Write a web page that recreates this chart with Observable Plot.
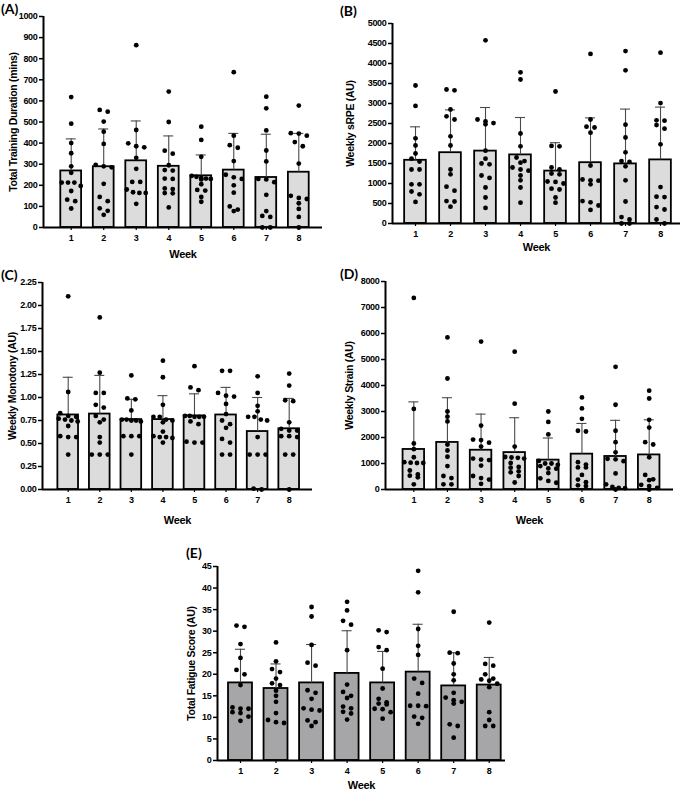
<!DOCTYPE html>
<html><head><meta charset="utf-8">
<script src="https://cdn.jsdelivr.net/npm/d3@7"></script>
<script src="https://cdn.jsdelivr.net/npm/@observablehq/plot@0.6"></script>
<style>
body{margin:0;background:#fff;}
#wrap{position:relative;width:685px;height:790px;overflow:hidden;background:#fff;}
#wrap svg{position:absolute;}
.lab{position:absolute;font-weight:bold;font-size:14px;line-height:14px;font-family:Lato,"Liberation Sans",sans-serif;color:#000;}
</style></head><body><div id="wrap"></div>
<script>
const weeks = [1,2,3,4,5,6,7,8];

// (A) Total Training Duration (mins)
const aMean = [268,288,316,290,245,272,237,262];
const aCap  = [420,467,505,434,344,446,442,446];
const aPts = [
  [618,492,400,352,290,259,213,197,213,213,173,132,125,90],
  [557,549,502,454,396,297,290,285,207,145,125,91,79,60],
  [864,462,399,385,380,330,278,216,216,180,167,164,164,112],
  [644,500,364,350,295,272,270,232,230,185,182,163,162,95],
  [478,415,335,245,240,235,232,230,228,205,178,175,145,122],
  [736,435,390,378,315,250,238,230,200,165,100,85,78],
  [620,565,460,365,313,230,228,215,155,78,55,50,0,0],
  [578,447,445,435,405,385,303,150,140,135,115,88,50,0]
];
const aTicks = [0,100,200,300,400,500,600,700,800,900,1000];

// (B) Weekly sRPE (AU)
const bMean = [1580,1770,1810,1715,1310,1520,1490,1590];
const bCap  = [2417,2840,2900,2650,2020,2640,2860,2910];
const bPts = [
  [3450,2940,2130,1950,1750,1620,1550,1350,1350,980,980,800,730,540],
  [3350,3330,2850,2680,2600,2180,1950,1350,1230,920,820,560,550,420],
  [4580,2600,2550,2510,2480,1820,1620,1500,1480,1200,1140,900,650,390],
  [3780,3600,2250,1930,1650,1560,1520,1400,1350,1320,1200,1080,900,520],
  [3300,1940,1930,1400,1350,1250,1230,1050,1040,1000,870,850,650,520],
  [4240,2600,2420,2400,2270,1450,1100,1080,1070,980,560,530,450,340],
  [4310,3830,2470,2150,1780,1560,1540,1430,1080,550,160,100,0,0],
  [4270,3010,2580,2570,2460,2370,1980,910,670,660,410,350,100,0]
];
const bTicks = [0,500,1000,1500,2000,2500,3000,3500,4000,4500,5000];

// (C) Weekly Monotony (AU)
const cMean = [0.81,0.82,0.76,0.76,0.80,0.81,0.63,0.66];
const cCap  = [1.22,1.24,0.98,1.02,1.04,1.11,1.00,0.99];
const cPts = [
  [2.10,1.06,0.83,0.80,0.79,0.77,0.76,0.75,0.74,0.69,0.58,0.57,0.57,0.38],
  [1.87,1.27,1.05,1.05,0.92,0.89,0.80,0.76,0.73,0.57,0.51,0.38,0.38,0.38],
  [1.24,0.99,0.98,0.86,0.76,0.76,0.75,0.75,0.74,0.58,0.58,0.58,0.38],
  [1.40,1.22,0.92,0.79,0.79,0.76,0.75,0.73,0.63,0.58,0.57,0.57,0.56,0.51],
  [1.34,1.11,1.08,0.80,0.80,0.79,0.79,0.79,0.74,0.71,0.52,0.51,0.51],
  [1.29,1.29,1.05,1.02,1.01,0.93,0.82,0.75,0.71,0.67,0.55,0.51,0.38,0.38],
  [1.23,1.05,0.91,0.85,0.79,0.79,0.76,0.75,0.57,0.38,0.38,0.38,0.01,0.0],
  [1.26,1.13,0.97,0.96,0.73,0.66,0.64,0.64,0.58,0.58,0.57,0.38,0.38,0.0]
];
const cTicks = [0,0.25,0.5,0.75,1,1.25,1.5,1.75,2,2.25];

// (D) Weekly Strain (AU)
const dMean = [1540,1810,1510,1420,1130,1360,1270,1330];
const dCap  = [3370,3530,2900,2760,1980,2540,2660,2680];
const dPts = [
  [7370,3100,1770,1550,1240,1050,1030,1020,1020,730,580,530,470,200],
  [5850,4270,3000,2800,2620,1730,1500,1260,900,520,440,200,200],
  [5690,2460,1920,1900,1800,1650,1190,1150,1130,920,520,440,380,220],
  [5300,3300,1650,1250,1230,1220,1190,1020,870,840,700,660,520,270],
  [3000,2600,2120,1100,1000,1000,950,900,810,800,630,430,330,260],
  [3540,3120,2720,2260,2230,1050,960,850,850,560,380,280,160,130],
  [4720,3260,2260,1820,1430,1180,1160,1090,620,200,100,60,50,0],
  [3800,3500,2680,2380,1820,1730,1240,560,390,360,180,130,60,0]
];
const dTicks = [0,1000,2000,3000,4000,5000,6000,7000,8000];

// (E) Total Fatigue Score (AU)
const eMean = [18.0,16.7,18.0,20.2,18.0,20.5,17.3,17.5];
const eCap  = [25.8,22.4,26.9,30.1,25.3,31.6,25.0,23.9];
const ePts = [
  [31.3,31.0,27.0,23.8,21.0,20.0,17.5,12.3,12.0,12.0,11.2,11.0,10.2,9.2],
  [27.4,23.0,21.2,20.5,19.0,17.9,17.5,16.2,15.0,13.6,11.0,9.4,8.9,8.7],
  [35.6,33.4,26.8,22.7,22.0,16.3,15.7,14.3,12.1,11.8,11.6,9.3,8.9,8.0],
  [36.8,34.8,32.4,31.5,25.6,17.6,15.9,15.0,14.5,12.5,12.1,11.3,10.9,9.5],
  [30.2,29.8,26.3,25.6,21.3,16.7,14.3,13.5,13.2,13.0,12.0,11.9,11.2,9.7],
  [44.0,39.0,30.5,26.6,24.5,19.0,18.0,15.5,12.7,12.7,12.6,10.2,9.9,8.5],
  [34.5,25.0,24.9,22.5,20.0,18.6,15.7,14.6,14.0,13.6,13.2,8.4,8.0,5.3],
  [32.0,22.4,22.0,20.0,19.0,18.8,18.5,17.8,17.0,11.2,9.4,8.0,8.0]
];
const eTicks = [0,5,10,15,20,25,30,35,40,45];

// deterministic scatter layout: points of near-equal value are spread side by side
function swarm(vals, pxPerUnit, stepPx) {
  const idx = vals.map((v, i) => i).sort((i, j) => vals[j] - vals[i]);
  const rows = [];
  for (const i of idx) {
    const r = rows[rows.length - 1];
    if (r && (vals[r[0]] - vals[i]) * pxPerUnit < 4.6 && r.length < 5) r.push(i);
    else rows.push([i]);
  }
  const dx = new Array(vals.length).fill(0);
  for (const r of rows) {
    const k = r.length;
    if (k === 1) continue;
    const sp = Math.min(8, 19 / (k - 1));
    r.forEach((i, j) => dx[i] = (j - (k - 1) / 2) * sp / stepPx);
  }
  return dx;
}

const wrap = document.getElementById("wrap");

function panel(c) {
  const plotH = c.height - c.mt - c.mb;
  const plotW = c.width - c.ml - c.mr;
  const ymax = c.ticks[c.ticks.length - 1];
  const pxPerUnit = plotH / ymax;
  const stepPx = plotW / (c.w1 - c.w0);
  const capW = 5 / stepPx;
  const bars = weeks.map((w, i) => ({week: w, mean: c.means[i], cap: c.caps[i]}));
  const dots = [];
  c.pts.forEach((vals, i) => {
    const dx = swarm(vals, pxPerUnit, stepPx);
    vals.forEach((v, j) => dots.push({x: weeks[i] + dx[j], v}));
  });
  const svg = Plot.plot({
    width: c.width, height: c.height,
    marginTop: c.mt, marginBottom: c.mb, marginLeft: c.ml, marginRight: c.mr,
    style: {fontFamily: "'Liberation Sans', Arial, sans-serif", fontSize: "9px", fontWeight: "bold", letterSpacing: "-0.3px", background: "transparent", overflow: "visible", color: "black"},
    x: {domain: [c.w0, c.w1], label: null},
    y: {domain: [0, ymax], label: null},
    marks: [
      Plot.rectY(bars, {x1: d => d.week - c.half, x2: d => d.week + c.half, y: "mean", fill: c.fill, stroke: "black", strokeWidth: 1.8}),
      Plot.ruleX(bars, {x: "week", y1: "mean", y2: "cap", stroke: "#4a4a4a", strokeWidth: 1.1}),
      Plot.ruleY(bars, {y: "cap", x1: d => d.week - capW, x2: d => d.week + capW, stroke: "#4a4a4a", strokeWidth: 1.1}),
      Plot.dot(dots, {x: "x", y: "v", r: 2.4, fill: "black", stroke: null}),
      Plot.ruleY([0], {stroke: "black", strokeWidth: 2}),
      Plot.ruleX([c.w0], {stroke: "black", strokeWidth: 2}),
      Plot.axisY({ticks: c.ticks, tickFormat: c.fmt, tickSize: 4, tickPadding: 2, strokeWidth: 1.5}),
      Plot.axisX({ticks: weeks, tickFormat: d => String(d), tickSize: 3, tickPadding: 4, strokeWidth: 1.2}),
      Plot.text([c.title], {frameAnchor: "left", rotate: -90, textAnchor: "middle", lineAnchor: "middle", dx: c.titleDx, fontSize: 10.5, letterSpacing: "0px"}),
      Plot.text(["Week"], {frameAnchor: "bottom", textAnchor: "middle", lineAnchor: "middle", dy: c.weekDy, fontSize: 11, letterSpacing: "0px"})
    ]
  });
  svg.style.left = c.left + "px";
  svg.style.top = c.top + "px";
  wrap.appendChild(svg);
  const lab = document.createElement("div");
  lab.className = "lab";
  lab.textContent = c.label;
  lab.style.left = c.labX + "px";
  lab.style.top = c.labY + "px";
  wrap.appendChild(lab);
}

const lightFill = "#dcdcdc";
const darkFill = "#a6a6a8";

panel({label: "(A)", labX: 1, labY: 2, title: "Total Training Duration (mins)",
  means: aMean, caps: aCap, pts: aPts, ticks: aTicks, fmt: d => String(d),
  left: 0, top: 0, width: 330, height: 262, mt: 16, mb: 35, ml: 43, mr: 8,
  w0: 0.148, w1: 8.729, half: 0.32, fill: lightFill, titleDx: -30, weekDy: 27});

panel({label: "(B)", labX: 340, labY: 4, title: "Weekly sRPE (AU)",
  means: bMean, caps: bCap, pts: bPts, ticks: bTicks, fmt: d => String(d),
  left: 340, top: 0, width: 345, height: 262, mt: 23, mb: 39, ml: 52, mr: 5,
  w0: 0.343, w1: 8.571, half: 0.31, fill: lightFill, titleDx: -42, weekDy: 24});

panel({label: "(C)", labX: 1, labY: 268, title: "Weekly Monotony (AU)",
  means: cMean, caps: cCap, pts: cPts, ticks: cTicks, fmt: d => d.toFixed(2),
  left: 0, top: 262, width: 330, height: 268, mt: 20, mb: 41, ml: 42, mr: 18,
  w0: 0.186, w1: 8.738, half: 0.327, fill: lightFill, titleDx: -30, weekDy: 31});

panel({label: "(D)", labX: 340, labY: 267, title: "Weekly Strain (AU)",
  means: dMean, caps: dCap, pts: dPts, ticks: dTicks, fmt: d => String(d),
  left: 340, top: 262, width: 345, height: 268, mt: 19, mb: 41, ml: 45, mr: 12,
  w0: 0.158, w1: 8.723, half: 0.32, fill: lightFill, titleDx: -36, weekDy: 31});

panel({label: "(E)", labX: 186, labY: 546, title: "Total Fatigue Score (AU)",
  means: eMean, caps: eCap, pts: ePts, ticks: eTicks, fmt: d => String(d),
  left: 170, top: 545, width: 345, height: 245, mt: 21, mb: 30, ml: 47, mr: 10,
  w0: 0.353, w1: 8.458, half: 0.337, fill: darkFill, titleDx: -26, weekDy: 25});
</script>
</body></html>
